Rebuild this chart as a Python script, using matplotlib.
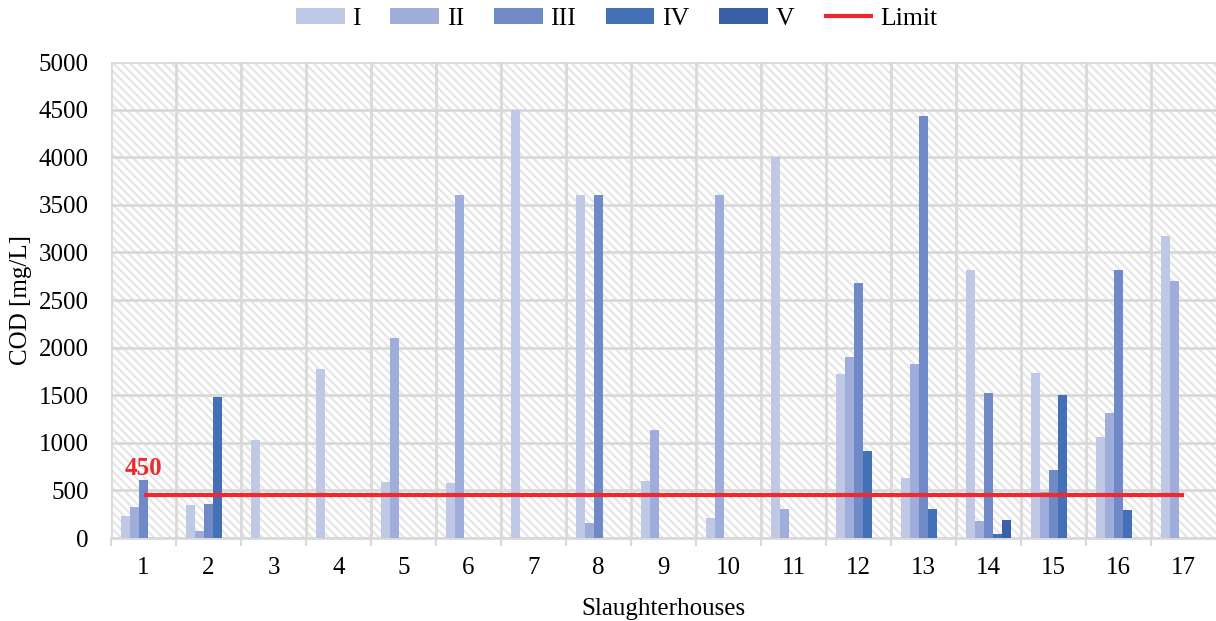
import matplotlib
matplotlib.use('Agg')
import matplotlib.pyplot as plt
from matplotlib.patches import Rectangle
import numpy as np

# ---- data ----
houses = [str(i) for i in range(1, 18)]
series_names = ['I', 'II', 'III', 'IV', 'V']
cod_I = [230, 350, 1030, 1775, 590, 580, 4500, 3600, 600, 215, 4000, 1725, 630, 2815, 1735, 1060, 3170]
cod_II = [325, 75, 0, 0, 2100, 3600, 0, 160, 1135, 3600, 305, 1900, 1830, 180, 485, 1315, 2700]
cod_III = [610, 360, 0, 0, 0, 0, 0, 3600, 0, 0, 0, 2680, 4430, 1525, 715, 2815, 0]
cod_IV = [0, 1480, 0, 0, 0, 0, 0, 0, 0, 0, 0, 915, 305, 45, 1500, 295, 0]
cod_V = [0, 0, 0, 0, 0, 0, 0, 0, 0, 0, 0, 0, 0, 190, 0, 0, 0]
limit = 450

colors = ['#bfc8e4', '#9eadda', '#6f8ac6', '#4470b7', '#3a60a8']

plt.rcParams['font.family'] = ['Liberation Serif', 'DejaVu Serif']
plt.rcParams['hatch.linewidth'] = 1.6
plt.rcParams['hatch.color'] = '#e6e6e6'

fig = plt.figure(figsize=(12.16, 6.21), dpi=100)
ax = fig.add_axes([0.0913, 0.1336, 0.9087, 0.7664])

x = np.arange(1, 18)
w = 0.14
all_series = [cod_I, cod_II, cod_III, cod_IV, cod_V]
for i, (vals, name) in enumerate(zip(all_series, series_names)):
    ax.bar(x + (i - 2) * w, vals, width=w, color=colors[i], label=name, zorder=3)

ax.plot([1, 17], [limit, limit], color='#ee2a2e', lw=3, solid_capstyle='butt',
        label='Limit', zorder=4)
ax.text(1, 660, str(limit), color='#ee2a2e', fontsize=18, fontweight='bold',
        ha='center', va='baseline', zorder=5)

# patterned background (diagonal stripes)
bg = Rectangle((0, 0), 1, 1, transform=ax.transAxes, facecolor='white',
               edgecolor='#e6e6e6', hatch='\\\\\\\\', lw=0, zorder=0)
ax.add_patch(bg)

ax.set_xlim(0.5, 17.5)
ax.set_ylim(0, 5000)
ax.set_yticks(np.arange(0, 5001, 500))
ax.set_xticks(x)
ax.set_xticklabels(houses)
ax.set_xticks(np.arange(0.5, 17.0, 1.0), minor=True)
ax.tick_params(axis='x', which='major', length=0, labelsize=18, pad=14)
ax.tick_params(axis='x', which='minor', length=6, width=1.5, color='#d9d9d9')
ax.tick_params(axis='y', length=0, labelsize=18, pad=16)
ax.grid(axis='y', color='#d9d9d9', lw=2, zorder=1)
ax.grid(axis='x', which='minor', color='#d9d9d9', lw=2, zorder=1)
for s in ['top', 'right', 'left']:
    ax.spines[s].set_visible(False)
ax.spines['bottom'].set_color('#d9d9d9')
ax.spines['bottom'].set_linewidth(2)
ax.set_axisbelow(True)

ax.set_xlabel('Slaughterhouses', fontsize=18, labelpad=13)
ax.set_ylabel('COD [mg/L]', fontsize=18, labelpad=5)

handles, labels = ax.get_legend_handles_labels()
order = [1, 2, 3, 4, 5, 0]
fig.legend([handles[k] for k in order], [labels[k] for k in order],
           loc='upper center', bbox_to_anchor=(0.507, 1.025),
           ncol=6, frameon=False, fontsize=18.5, handlelength=1.9, handleheight=0.6,
           columnspacing=1.15, handletextpad=0.3)

plt.savefig('out.png', dpi=100)
plt.close()
